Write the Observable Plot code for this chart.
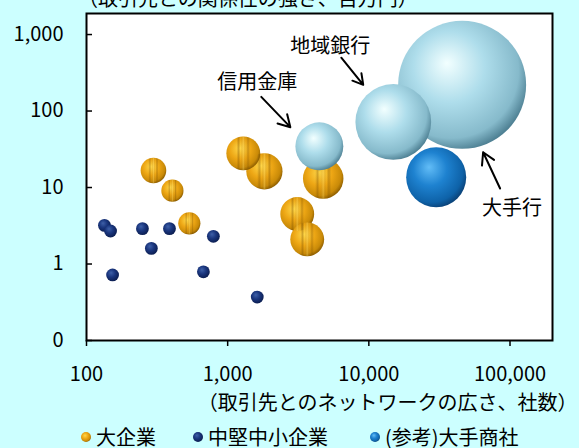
<!DOCTYPE html>
<html><head><meta charset="utf-8">
<script src="https://cdn.jsdelivr.net/npm/d3@7"></script>
<script src="https://cdn.jsdelivr.net/npm/@observablehq/plot@0.6"></script>
<style>
html,body{margin:0;padding:0;background:#CCFFFF;width:579px;height:448px;overflow:hidden;font-family:"Noto Sans CJK JP",sans-serif;color:#000;}
#wrap{position:relative;width:579px;height:448px;}
#title{position:absolute;left:78px;top:-12px;font-size:20px;line-height:20px;white-space:nowrap;}
#chart{position:absolute;left:0;top:0;}
#legend{position:absolute;left:0;top:427px;width:579px;height:21px;font-size:20px;line-height:20px;}
.item{position:absolute;top:0;height:20px;display:flex;align-items:center;white-space:nowrap;}
.item svg{margin-right:4px;}
</style></head>
<body>
<svg width="0" height="0" style="position:absolute">
<defs>
<radialGradient id="gBank" cx="0.42" cy="0.4" r="0.62" fx="0.38" fy="0.33">
<stop offset="0" stop-color="#F2FFFF"/><stop offset="0.45" stop-color="#AEDDEB"/><stop offset="0.85" stop-color="#86BACB"/><stop offset="1" stop-color="#4F8194"/>
</radialGradient>
<radialGradient id="gOrange" cx="0.42" cy="0.4" r="0.62" fx="0.4" fy="0.35">
<stop offset="0" stop-color="#FFD84A"/><stop offset="0.5" stop-color="#EDA614"/><stop offset="0.85" stop-color="#C98A08"/><stop offset="1" stop-color="#8E5E00"/>
</radialGradient>
<linearGradient id="gStripe" x1="0" y1="0" x2="1" y2="0">
<stop offset="0" stop-color="#7A4E00" stop-opacity="0"/>
<stop offset="0.3" stop-color="#7A4E00" stop-opacity="0"/>
<stop offset="0.36" stop-color="#7A4E00" stop-opacity="0.35"/>
<stop offset="0.42" stop-color="#7A4E00" stop-opacity="0"/>
<stop offset="0.5" stop-color="#FFE070" stop-opacity="0.35"/>
<stop offset="0.58" stop-color="#7A4E00" stop-opacity="0"/>
<stop offset="0.64" stop-color="#7A4E00" stop-opacity="0.35"/>
<stop offset="0.7" stop-color="#7A4E00" stop-opacity="0"/>
<stop offset="1" stop-color="#7A4E00" stop-opacity="0"/>
</linearGradient>
<radialGradient id="gNavy" cx="0.42" cy="0.4" r="0.62" fx="0.38" fy="0.33">
<stop offset="0" stop-color="#3E60A8"/><stop offset="0.5" stop-color="#1A367E"/><stop offset="1" stop-color="#0B1D4F"/>
</radialGradient>
<radialGradient id="gBlue" cx="0.42" cy="0.4" r="0.62" fx="0.38" fy="0.33">
<stop offset="0" stop-color="#62BDF7"/><stop offset="0.45" stop-color="#1E82D0"/><stop offset="0.85" stop-color="#0E62A8"/><stop offset="1" stop-color="#0A4278"/>
</radialGradient>
</defs>
</svg>
<div id="wrap">
<div id="chart"></div>
<div id="title"></div>
<div id="legend"></div>
</div>
<script>
// 大企業
const largeX = [298, 406, 1290, 1820, 4750, 3110, 3660, 535];
const largeY = [16.7, 9.1, 28, 16.3, 13.1, 4.5, 2.1, 3.4];
const largeSize = [4, 3, 7, 8, 10, 7, 7, 3];
// 中堅中小企業
const smeX = [134, 148, 249, 387, 288, 792, 153, 673, 1620];
const smeY = [3.2, 2.7, 2.9, 2.9, 1.6, 2.3, 0.72, 0.79, 0.37];
const smeSize = [1, 1, 1, 1, 1, 1, 1, 1, 1];
// 銀行
const bankNames = ["大手行", "地域銀行", "信用金庫"];
const bankX = [45800, 14900, 4460];
const bankY = [220, 72, 34.6];
const bankSize = [100, 35, 14];
// (参考)大手商社
const tradingX = [30000];
const tradingY = [13.6];
const tradingSize = [22];

const legendLabels = ["大企業", "中堅中小企業", "(参考)大手商社"];
const titleText = "（取引先との関係性の強さ、百万円）";
const xLabel = "（取引先とのネットワークの広さ、社数）";

const xTicks = [100, 1000, 10000, 100000];
const xTickLabels = ["100", "1,000", "10,000", "100,000"];
const yTicks = [0.1, 1, 10, 100, 1000];
const yTickLabels = ["0", "1", "10", "100", "1,000"];

// annotations (data coordinates)
const annoText = ["地域銀行", "信用金庫", "大手行"];
const annoX = [5330, 1623, 103500];
const annoY = [695, 233, 5.3];
const arrowX1 = [6380, 1730, 85100];
const arrowY1 = [498, 153, 9.7];
const arrowX2 = [9130, 2780, 64500];
const arrowY2 = [220, 61.5, 28.9];

const idx = a => a.map((_, i) => i);
const FONT = '"Noto Sans CJK JP", sans-serif';

const chart = Plot.plot({
  width: 579, height: 420,
  marginLeft: 86, marginRight: 27, marginTop: 13, marginBottom: 80,
  x: {type: "log", domain: [100, 200000]},
  y: {type: "log", domain: [0.1, 1884]},
  r: {type: "sqrt", domain: [0, 100], range: [0, 64]},
  style: {background: "transparent", fontFamily: FONT, fontSize: "20px", color: "black"},
  marks: [
    Plot.frame({fill: "white", stroke: null}),
    Plot.dot(idx(largeX), {x: i => largeX[i], y: i => largeY[i], r: i => largeSize[i], fill: "url(#gOrange)"}),
    Plot.dot(idx(largeX), {x: i => largeX[i], y: i => largeY[i], r: i => largeSize[i], fill: "url(#gStripe)"}),
    Plot.dot(idx(smeX), {x: i => smeX[i], y: i => smeY[i], r: i => smeSize[i], fill: "url(#gNavy)"}),
    Plot.dot(idx(bankX), {x: i => bankX[i], y: i => bankY[i], r: i => bankSize[i], fill: "url(#gBank)"}),
    Plot.dot(idx(tradingX), {x: i => tradingX[i], y: i => tradingY[i], r: i => tradingSize[i], fill: "url(#gBlue)"}),
    Plot.tickY(yTicks, {y: d => d, insetRight: 460, stroke: "black", strokeWidth: 1.5}),
    Plot.axisY({ticks: yTicks, tickFormat: d => yTickLabels[yTicks.indexOf(d)], tickSize: 0, tickPadding: 23, label: null, fontSize: 20}),
    Plot.axisX({ticks: xTicks, tickFormat: d => xTickLabels[xTicks.indexOf(d)], tickSize: 6, tickPadding: 20, label: null, fontSize: 20, strokeWidth: 1.5}),
    Plot.frame({stroke: "black", strokeWidth: 2}),
    Plot.text(idx(annoText), {x: i => annoX[i], y: i => annoY[i], text: i => annoText[i], fontSize: 20, fill: "black"}),
    Plot.arrow(idx(arrowX1), {x1: i => arrowX1[i], y1: i => arrowY1[i], x2: i => arrowX2[i], y2: i => arrowY2[i], stroke: "black", strokeWidth: 2, headLength: 10}),
    Plot.text([xLabel], {frameAnchor: "bottom-right", dx: 25, dy: 69, textAnchor: "end", fontSize: 20, fill: "black"})
  ]
});
document.getElementById("chart").appendChild(chart);
document.getElementById("title").textContent = titleText;

const legendFills = ["url(#gOrange)", "url(#gNavy)", "url(#gBlue)"];
const legendLeft = [80, 192, 369];
const leg = document.getElementById("legend");
legendLabels.forEach((lab, i) => {
  const d = document.createElement("div");
  d.className = "item";
  d.style.left = legendLeft[i] + "px";
  d.innerHTML = `<svg width="12" height="12"><circle cx="6" cy="6" r="5" fill="${legendFills[i]}"/></svg><span>${lab}</span>`;
  leg.appendChild(d);
});
</script>
</body></html>
